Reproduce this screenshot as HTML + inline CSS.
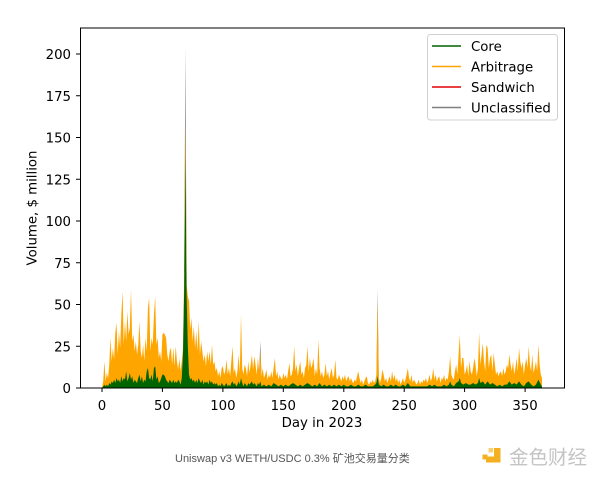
<!DOCTYPE html>
<html>
<head>
<meta charset="utf-8">
<style>
html,body{margin:0;padding:0;background:#fff;}
body{width:600px;height:480px;overflow:hidden;position:relative;}
svg{position:absolute;left:0;top:0;}
.t{font-family:"DejaVu Sans","Liberation Sans",sans-serif;font-size:13.3px;fill:#000;}
</style>
</head>
<body>
<svg width="600" height="480" viewBox="0 0 600 480" xmlns="http://www.w3.org/2000/svg">
<rect x="0" y="0" width="600" height="480" fill="#fff"/>
<g transform="translate(102,388) scale(1.2088,-1.67)">
<polygon fill="#808080" points="68,70 69,204 70,62"/>
<polygon fill="#808080" points="130,10 131,28 132,6"/>
<polygon fill="#a0a0a0" points="227,8 228,60 229,6"/>
<polygon fill="#ffa500" points="0,0 1,4 2,16 3,4 4,9 5,6 6,14 7,30 8,16 9,24 10,17 11,33 12,39 13,20 14,34 15,24 16,44 17,58 18,26 19,40 20,28 21,46 22,32 23,36 24,59 25,28 26,32 27,22 28,28 29,20 30,26 31,40 32,22 33,18 34,26 35,16 36,30 37,22 38,48 39,54 40,22 41,30 42,26 43,44 44,55 45,26 46,30 47,18 48,22 49,16 50,32 51,33 52,32 53,30 54,20 55,16 56,22 57,24 58,14 59,24 60,13 61,25 62,16 63,11 64,18 65,10 66,16 67,24 68,70 69,160 70,62 71,55 72,52 73,35 74,42 75,28 76,37 77,24 78,34 79,22 80,40 81,20 82,28 83,22 84,16 85,20 86,13 87,22 88,16 89,22 90,14 91,26 92,14 93,16 94,10 95,12 96,7 97,10 98,6 99,12 100,13 101,8 102,10 103,17 104,8 105,12 106,7 107,16 108,25 109,9 110,12 111,6 112,10 113,20 114,9 115,44 116,12 117,8 118,14 119,12 120,7 121,16 122,9 123,14 124,20 125,11 126,19 127,14 128,8 129,18 130,10 131,22 132,7 133,12 134,6 135,8 136,11 137,5 138,8 139,6 140,10 141,6 142,12 143,18 144,7 145,10 146,5 147,8 148,6 149,5 150,9 151,6 152,8 153,5 154,10 155,15 156,7 157,8 158,12 159,25 160,10 161,14 162,7 163,12 164,16 165,8 166,10 167,6 168,12 169,14 170,25 171,10 172,18 173,12 174,14 175,18 176,7 177,12 178,8 179,29 180,12 181,7 182,10 183,6 184,8 185,15 186,7 187,10 188,5 189,9 190,12 191,6 192,8 193,17 194,6 195,5 196,8 197,6 198,4 199,7 200,5 201,8 202,4 203,6 204,7 205,4 206,6 207,4 208,3 209,5 210,4 211,7 212,10 213,6 214,3 215,5 216,2 217,4 218,6 219,7 220,3 221,2 222,4 223,3 224,5 225,3 226,4 227,8 228,52 229,6 230,3 231,6 232,11 233,8 234,4 235,6 236,3 237,5 238,7 239,4 240,10 241,5 242,8 243,4 244,6 245,3 246,5 247,2 248,4 249,6 250,3 251,5 252,8 253,12 254,6 255,4 256,8 257,3 258,5 259,4 260,2 261,3 262,5 263,2 264,4 265,3 266,5 267,4 268,6 269,3 270,5 271,8 272,4 273,6 274,12 275,5 276,8 277,4 278,6 279,7 280,3 281,6 282,5 283,8 284,4 285,6 286,5 287,10 288,19 289,8 290,6 291,5 292,10 293,14 294,8 295,20 296,32 297,12 298,18 299,18 300,8 301,10 302,14 303,7 304,16 305,10 306,8 307,12 308,18 309,14 310,7 311,12 312,33 313,14 314,20 315,27 316,16 317,10 318,26 319,24 320,12 321,18 322,20 323,10 324,21 325,14 326,8 327,10 328,7 329,9 330,10 331,7 332,12 333,8 334,10 335,14 336,12 337,20 338,14 339,10 340,16 341,8 342,12 343,18 344,10 345,24 346,16 347,12 348,16 349,8 350,14 351,18 352,12 353,25 354,14 355,10 356,20 357,9 358,12 359,16 360,10 361,26 362,14 363,8 364,6 364,0"/>
<polygon fill="#006400" points="0,0 1,1 2,2 3,1 4,2 5,1 6,3 7,2 8,4 9,3 10,5 11,3 12,6 13,4 14,5 15,3 16,7 17,4 18,6 19,5 20,10 21,4 22,6 23,9 24,5 25,7 26,3 27,5 28,4 29,3 30,6 31,8 32,4 33,7 34,3 35,5 36,4 37,10 38,12 39,6 40,5 41,8 42,4 43,12 44,13 45,5 46,7 47,3 48,4 49,6 50,8 51,8 52,7 53,5 54,4 55,3 56,5 57,4 58,3 59,5 60,3 61,4 62,3 63,5 64,4 65,2 66,6 67,20 68,60 69,140 70,55 71,25 72,8 73,5 74,6 75,4 76,5 77,3 78,5 79,3 80,6 81,4 82,3 83,5 84,2 85,4 86,3 87,4 88,2 89,5 90,3 91,4 92,2 93,3 94,2 95,3 96,1 97,2 98,1 99,3 100,2 101,1 102,2 103,3 104,1 105,2 106,1 107,3 108,4 109,2 110,3 111,1 112,2 113,4 114,2 115,6 116,3 117,1 118,3 119,2 120,1 121,3 122,2 123,3 124,4 125,2 126,3 127,2 128,1 129,3 130,2 131,4 132,1 134,2 136,1 138,2 140,1 142,3 144,2 146,1 148,2 150,1 152,2 154,1 156,2 158,3 160,2 162,1 164,2 166,1 168,2 170,3 172,2 174,1 176,2 178,1 180,3 182,1 184,2 186,1 188,2 190,1 192,2 194,1 196,2 198,1 200,2 202,1 204,1 206,2 208,1 210,1 212,2 214,1 216,1 218,2 220,1 222,1 224,1 226,2 227,3 228,7 229,2 231,1 233,2 235,1 237,1 239,2 241,1 243,2 245,1 247,1 249,2 251,1 253,3 255,1 257,1 259,1 261,1 263,1 265,1 267,1 269,1 271,2 273,1 275,2 277,1 279,1 281,1 283,2 285,1 287,2 288,4 289,2 291,1 293,3 295,4 296,6 297,3 299,2 301,3 303,2 305,2 307,3 309,2 311,3 312,6 313,3 315,4 317,2 319,4 321,2 323,3 325,2 327,1 329,2 331,1 333,2 335,2 337,4 339,2 341,3 343,2 345,4 347,2 349,1 351,3 353,4 355,2 357,1 359,2 361,5 363,2 364,1 364,0"/>
</g>
<rect x="80.5" y="28" width="484" height="360" fill="none" stroke="#000" stroke-width="1"/>
<g stroke="#000" stroke-width="1">
<line x1="76" y1="388" x2="80" y2="388"/>
<line x1="76" y1="346.25" x2="80" y2="346.25"/>
<line x1="76" y1="304.5" x2="80" y2="304.5"/>
<line x1="76" y1="262.75" x2="80" y2="262.75"/>
<line x1="76" y1="221" x2="80" y2="221"/>
<line x1="76" y1="179.25" x2="80" y2="179.25"/>
<line x1="76" y1="137.5" x2="80" y2="137.5"/>
<line x1="76" y1="95.75" x2="80" y2="95.75"/>
<line x1="76" y1="54" x2="80" y2="54"/>
<line x1="102" y1="388" x2="102" y2="392"/>
<line x1="162.4" y1="388" x2="162.4" y2="392"/>
<line x1="222.9" y1="388" x2="222.9" y2="392"/>
<line x1="283.3" y1="388" x2="283.3" y2="392"/>
<line x1="343.8" y1="388" x2="343.8" y2="392"/>
<line x1="404.2" y1="388" x2="404.2" y2="392"/>
<line x1="464.6" y1="388" x2="464.6" y2="392"/>
<line x1="525.1" y1="388" x2="525.1" y2="392"/>
</g>
<g class="t" text-anchor="end">
<text class="t" x="71" y="393">0</text>
<text class="t" x="71" y="351.25">25</text>
<text class="t" x="71" y="309.5">50</text>
<text class="t" x="71" y="267.75">75</text>
<text class="t" x="71" y="226">100</text>
<text class="t" x="71" y="184.25">125</text>
<text class="t" x="71" y="142.5">150</text>
<text class="t" x="71" y="100.75">175</text>
<text class="t" x="71" y="59">200</text>
</g>
<g text-anchor="middle">
<text class="t" x="102" y="410">0</text>
<text class="t" x="162.4" y="410">50</text>
<text class="t" x="222.9" y="410">100</text>
<text class="t" x="283.3" y="410">150</text>
<text class="t" x="343.8" y="410">200</text>
<text class="t" x="404.2" y="410">250</text>
<text class="t" x="464.6" y="410">300</text>
<text class="t" x="525.1" y="410">350</text>
<text class="t" x="322" y="427">Day in 2023</text>
<text class="t" transform="translate(36.5,208) rotate(-90)" x="0" y="0">Volume, $ million</text>
</g>
<rect x="427.5" y="34.5" width="130" height="85.5" rx="3" ry="3" fill="#fff" fill-opacity="0.8" stroke="#d0d0d0" stroke-width="1"/>
<g stroke-width="1.6">
<line x1="432" y1="46" x2="461" y2="46" stroke="#006400"/>
<line x1="432" y1="66.5" x2="461" y2="66.5" stroke="#ffa500"/>
<line x1="432" y1="87" x2="461" y2="87" stroke="#e00000"/>
<line x1="432" y1="107.5" x2="461" y2="107.5" stroke="#808080"/>
</g>
<text class="t" x="471" y="51">Core</text>
<text class="t" x="471" y="71.5">Arbitrage</text>
<text class="t" x="471" y="92">Sandwich</text>
<text class="t" x="471" y="112.5">Unclassified</text>
<text x="175" y="462" style="font-family:'Liberation Sans','Noto Sans CJK SC',sans-serif;font-size:11px;fill:#555;">Uniswap v3 WETH/USDC 0.3% 矿池交易量分类</text>
<g fill="#f4b020">
<rect x="494" y="448" width="6.5" height="14.5"/>
<rect x="486" y="456.5" width="14.5" height="6"/>
<rect x="482.5" y="454.5" width="5" height="5"/>
</g>
<rect x="488.5" y="448" width="4.5" height="4.5" fill="#f8d070"/>
<text x="509" y="464" style="font-family:'Noto Sans CJK SC','WenQuanYi Zen Hei',sans-serif;font-size:19.5px;fill:#c4c4c4;">金色财经</text>
</svg>
</body>
</html>
